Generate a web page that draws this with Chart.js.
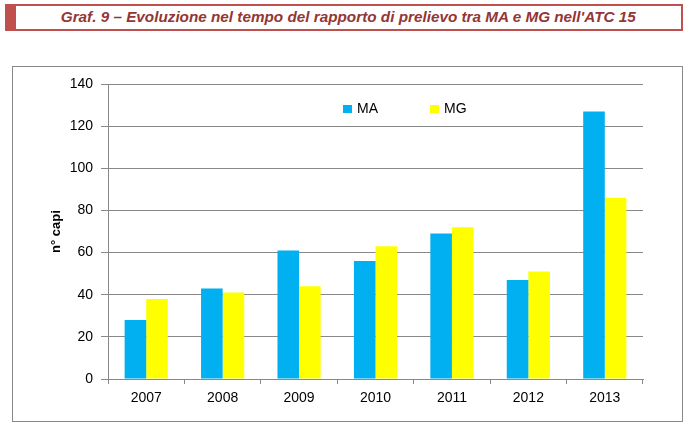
<!DOCTYPE html>
<html><head><meta charset="utf-8">
<script src="https://cdn.jsdelivr.net/npm/chart.js@4.4.1/dist/chart.umd.min.js"></script>
<style>
html,body{margin:0;padding:0;background:#fff;}
#wrap{position:relative;width:692px;height:436px;overflow:hidden;}
#titlebox{position:absolute;left:5px;top:4px;width:665px;height:23px;border:2px solid #c0504d;border-left:11px solid #c0504d;box-sizing:content-box;}
#title{position:absolute;left:0;top:2px;width:100%;text-align:center;font-family:"Liberation Sans",Arial,sans-serif;font-weight:bold;font-style:italic;font-size:15px;color:#943634;white-space:nowrap;}
#title span{display:inline-block;transform-origin:center;}
#chartbox{position:absolute;left:12px;top:66px;width:669px;height:354px;border:1px solid #888;}
#c{position:absolute;left:0;top:0;}
</style></head>
<body><div id="wrap">
<div id="titlebox"><div id="title"><span id="tt">Graf. 9 – Evoluzione nel tempo del rapporto di prelievo tra MA e MG nell'ATC 15</span></div></div>
<div id="chartbox"></div>
<canvas id="c" width="692" height="436"></canvas>
</div>
<script>
const categories = ['2007','2008','2009','2010','2011','2012','2013'];
const seriesMA = [28, 43, 61, 56, 69, 47, 127];
const seriesMG = [38, 41, 44, 63, 72, 51, 86];
const seriesNames = ['MA','MG'];
const yTitle = 'n° capi';

// fit title width
(function(){
  const s=document.getElementById('tt');
  const w=s.getBoundingClientRect().width;
  s.style.transform='scaleX('+(575/w)+')';
})();

const FONT = '"Liberation Sans", Arial, sans-serif';
const legendPlugin = {
  id:'customLegend',
  afterDraw(chart){
    const ctx=chart.ctx;
    const items=[{x:343,t:seriesNames[0],c:'#00b0f0'},{x:430,t:seriesNames[1],c:'#ffff00'}];
    ctx.save();
    ctx.font='14px '+FONT;
    ctx.textBaseline='middle';
    items.forEach(it=>{
      ctx.fillStyle=it.c;
      ctx.fillRect(it.x,105,9,8);
      ctx.fillStyle='#000';
      ctx.fillText(it.t,it.x+14,109);
    });
    ctx.restore();
  }
};

new Chart(document.getElementById('c'),{
  type:'bar',
  data:{labels:categories,datasets:[
    {label:seriesNames[0],data:seriesMA,backgroundColor:'#00b0f0',borderWidth:0,categoryPercentage:0.565,barPercentage:1},
    {label:seriesNames[1],data:seriesMG,backgroundColor:'#ffff00',borderWidth:0,categoryPercentage:0.565,barPercentage:1}
  ]},
  options:{
    responsive:false,animation:false,
    layout:{padding:{left:40,right:49,top:84,bottom:17}},
    plugins:{legend:{display:false},tooltip:{enabled:false},title:{display:false}},
    scales:{
      x:{
        afterFit(s){s.height=40;},
        grid:{offset:true,drawOnChartArea:false,drawTicks:true,tickLength:5,color:'#888'},
        border:{color:'#888'},
        ticks:{color:'#000',font:{family:FONT,size:14},padding:6}
      },
      y:{
        min:0,max:140,
        afterFit(s){s.width=68;},
        ticks:{stepSize:20,color:'#000',font:{family:FONT,size:14},padding:8},
        grid:{color:'#888',tickLength:7},
        border:{color:'#888'},
        title:{display:true,text:yTitle,color:'#000',font:{family:FONT,size:13,weight:'bold'},padding:{top:9,bottom:0}}
      }
    }
  },
  plugins:[legendPlugin]
});
</script>
</body></html>
